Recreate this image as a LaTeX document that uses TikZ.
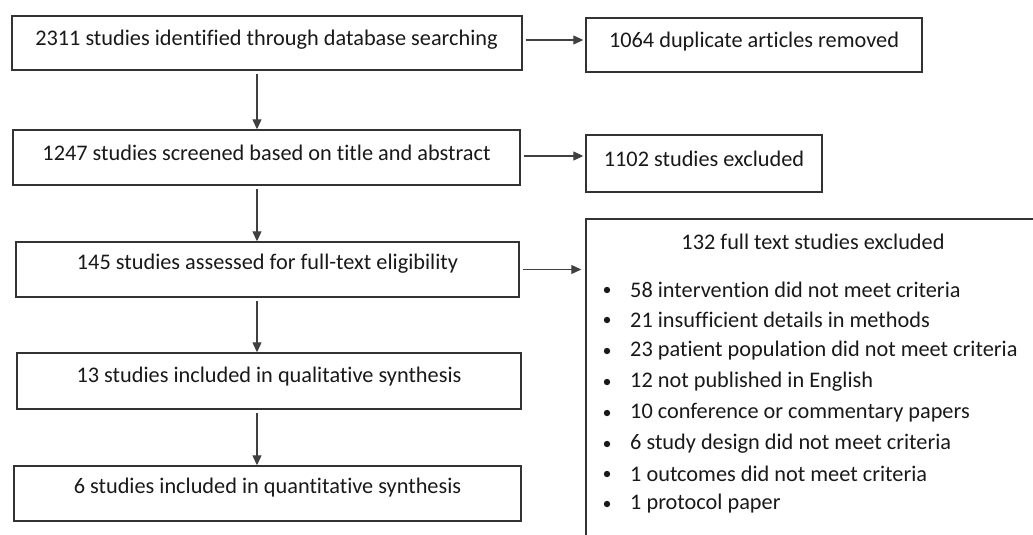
\documentclass[tikz,border=0pt]{standalone}
\usepackage{fontspec}
\setmainfont{Carlito}[Ligatures=NoCommon]
\usetikzlibrary{arrows.meta}
\begin{document}
\begin{tikzpicture}[x=1pt,y=-1pt,
  boxst/.style={draw=black!80, line width=1.4pt, rectangle, inner sep=0pt},
  txt/.style={font=\fontsize{22.3}{26}\selectfont, text=black!90, inner sep=0pt},
  arr/.style={draw=black!75, line width=1.1pt, -{Triangle[length=10pt,width=9pt]}},
  bul/.style={font=\fontsize{22.3}{26}\selectfont, text=black!90, inner sep=0pt, anchor=west}
]
\useasboundingbox (0,0) rectangle (1033,535);
\clip (0,0) rectangle (1033,535);
% left column
\node[boxst, minimum width=510pt, minimum height=54pt] (b1) at (267,43) {};
\node[boxst, minimum width=507pt, minimum height=55pt] (b2) at (266.5,157.5) {};
\node[boxst, minimum width=503pt, minimum height=55pt] (b3) at (267.5,269.5) {};
\node[boxst, minimum width=504pt, minimum height=56pt] (b4) at (269,381) {};
\node[boxst, minimum width=507pt, minimum height=55pt] (b5) at (267.5,493.5) {};
\node[txt] (t1) at (266.5,40) {2311 studies identified through database searching};
\node[txt] (t2) at (266.5,153) {1247 studies screened based on title and abstract};
\node[txt] (t3) at (267.5,264) {145 studies assessed for full-text eligibility};
\node[txt] (t4) at (269,377) {13 studies included in qualitative synthesis};
\node[txt] (t5) at (267.5,488) {6 studies included in quantitative synthesis};
% right column
\node[boxst, minimum width=336pt, minimum height=54pt] (r1) at (754,45) {};
\node[boxst, minimum width=236pt, minimum height=57pt] (r2) at (704,163.5) {};
\node[boxst, minimum width=454pt, minimum height=341pt] (r3) at (813,389.5) {};
\node[txt] (s1) at (754,42) {1064 duplicate articles removed};
\node[txt] (s2) at (704,159) {1102 studies excluded};
\node[txt] (s3) at (813,242) {132 full text studies excluded};
\foreach \yy/\tt [count=\i] in {290/58 intervention did not meet criteria,
  320/21 insufficient details in methods,
  351/23 patient population did not meet criteria,
  382/12 not published in English,
  413/10 conference or commentary papers,
  444/6 study design did not meet criteria,
  474/1 outcomes did not meet criteria,
  504/1 protocol paper}{
  \node[bul] (l\i) at (630,\yy) {\tt};
  \fill[black!90] (607,\yy) circle (3.2pt);
}
% connectors
\coordinate (vx) at (257,0);
\draw[arr, shorten <=3pt] (b1.south -| vx) -- (b2.north -| vx);
\draw[arr, shorten <=3pt] (b2.south -| vx) -- (b3.north -| vx);
\draw[arr, shorten <=3pt] (b3.south -| vx) -- (b4.north -| vx);
\draw[arr, shorten <=3pt] (b4.south -| vx) -- (b5.north -| vx);
\draw[arr, shorten <=3pt, shorten >=2pt] ([yshift=3pt]b1.east) -- ([yshift=3pt]b1.east -| r1.west);
\draw[arr, shorten <=3pt, shorten >=2pt] ([yshift=1.5pt]b2.east) -- ([yshift=1.5pt]b2.east -| r2.west);
\draw[arr, shorten <=3pt, shorten >=4pt] (b3.east) -- (b3.east -| r3.west);
\end{tikzpicture}
\end{document}
